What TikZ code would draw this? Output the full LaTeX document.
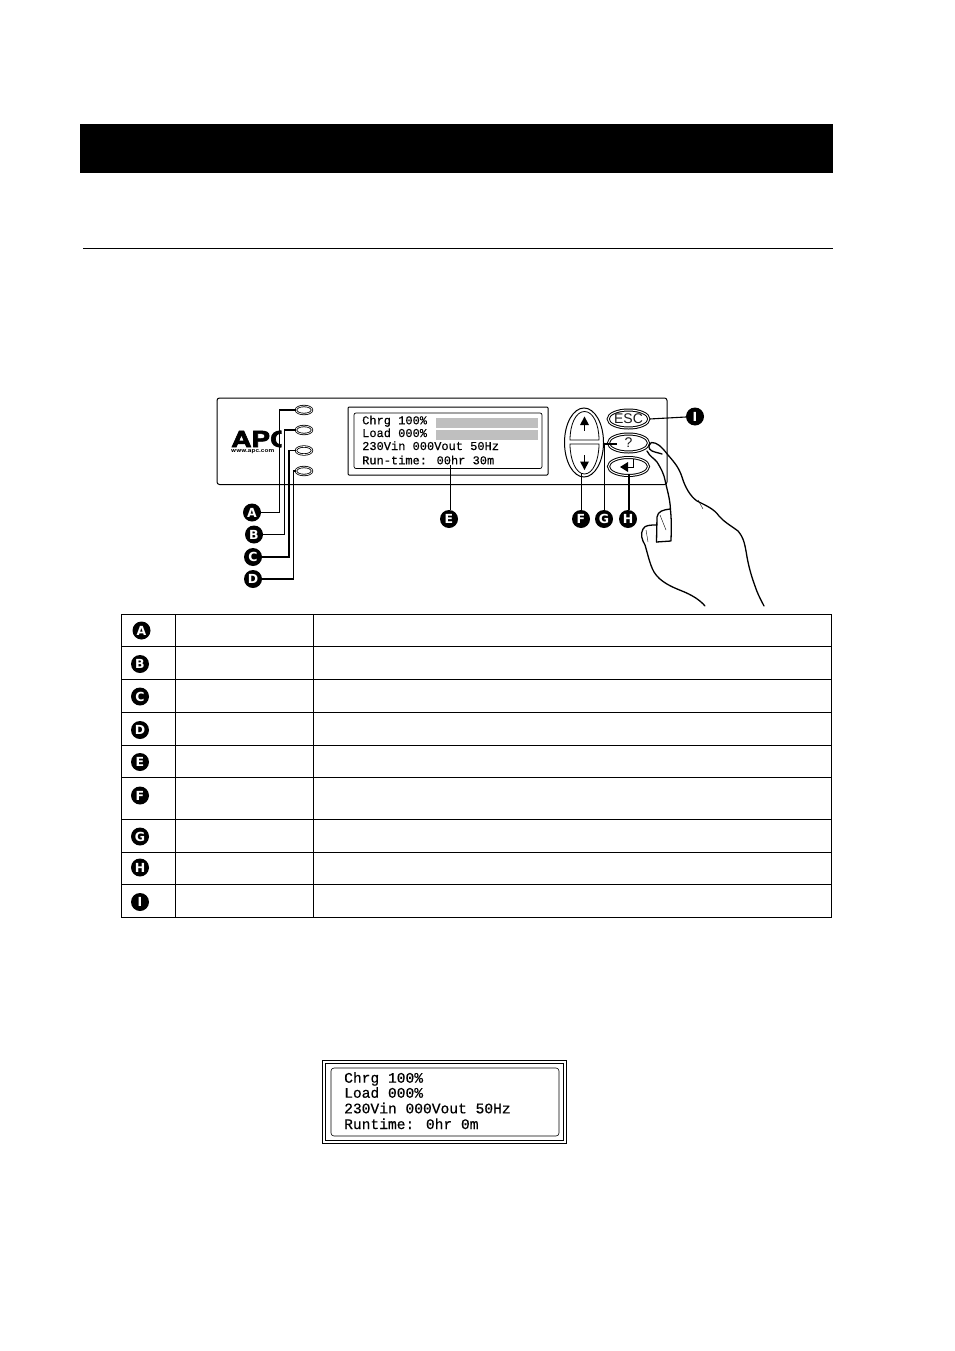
\documentclass[tikz,border=0pt]{standalone}
\usepackage{fontspec}
\setmainfont{Liberation Sans}
\newfontfamily\lcdfont[FakeBold=0.35]{Liberation Mono}
\newfontfamily\lcdbigfont[FakeBold=0.5]{Liberation Mono}
\newfontfamily\logofont[FakeBold=2.5]{TeX Gyre Heros}
\newfontfamily\webfont{TeX Gyre Heros}
\newfontfamily\badgefont{DejaVu Sans}
\usetikzlibrary{shapes.geometric,calc}
\tikzset{
  badge/.style={circle,fill=black,text=white,inner sep=0pt,minimum size=18pt,font=\badgefont\bfseries\fontsize{12.5pt}{12.5pt}\selectfont},
  led/.style={ellipse,draw,line width=.8pt,inner sep=0pt,minimum width=16pt,minimum height=8pt,double=white,double distance=.7pt},
  leader/.style={line width=1.7pt},
  thinleader/.style={line width=1.1pt},
  keybtn/.style={ellipse,draw,line width=1pt,inner sep=0pt,double=white,double distance=1pt,minimum width=40pt,minimum height=18pt},
  lcd/.style={anchor=base west,inner sep=0pt,font=\lcdfont\fontsize{12pt}{12pt}\selectfont},
  lcdbig/.style={anchor=base west,inner sep=0pt,font=\lcdbigfont\fontsize{14.6pt}{14.6pt}\selectfont},
  hand/.style={line width=1.3pt,line join=round,line cap=round},
  grid/.style={line width=1pt},
  bar/.style={fill=black!25,draw=none}
}
\begin{document}
\begin{tikzpicture}[x=1pt,y=-1pt]
\useasboundingbox (0,0) rectangle (954,1351);
\fill[white] (0,0) rectangle (954,1351);
% header
\fill[black] (80,124) rectangle (833,173);
\draw[line width=.8pt] (83,248.5) -- (833,248.5);
% panel
\draw[line width=1pt,rounded corners=2.5pt] (217,398) rectangle (667,484.5);
% logo
\begin{scope}
\clip (225,425) rectangle (281.5,456);
\node[inner sep=0pt,anchor=base west,font=\logofont\bfseries\fontsize{22pt}{22pt}\selectfont,xscale=1.27] (logo) at (231,447) {APC};
\node[inner sep=0pt,anchor=base west,font=\webfont\bfseries\fontsize{5.4pt}{5.4pt}\selectfont,xscale=1.2] (web) at (231,452.5) {www.apc.com};
\end{scope}
% LEDs
\node[led] (leda) at (304,410) {};
\node[led] (ledb) at (304,430) {};
\node[led] (ledc) at (304,450.5) {};
\node[led] (ledd) at (304,471) {};
% display
\draw[line width=1pt,rounded corners=1pt] (348,407) rectangle (548,475);
\draw[line width=.7pt,rounded corners=2pt] (354,413) rectangle (542,468.5);
\fill[bar] (436,418) rectangle (538,428);
\fill[bar] (436,430) rectangle (538,440);
\node[lcd] (l1) at (362,424.3) {Chrg 100\%};
\node[lcd] (l2) at (362,437) {Load 000\%};
\node[lcd] (l3) at (362,450) {230Vin 000Vout 50Hz};
\node[lcd] (l4) at (362,464.3) {Run-time: 00hr 30m};
% up/down rocker
\node[ellipse,draw,line width=1pt,inner sep=0pt,minimum width=39pt,minimum height=69pt] (rocker) at (584,442.5) {};
\draw[line width=.8pt] (570,440) .. controls (570,424) and (576,411.5) .. (584.5,411.5) .. controls (593,411.5) and (599,424) .. (599,440) -- cycle;
\draw[line width=.8pt] (570,444) .. controls (570,460) and (576,474) .. (584.5,474) .. controls (593,474) and (599,460) .. (599,444) -- cycle;
\fill (584.5,416.5) -- (589,425) -- (580,425) -- cycle;
\draw[line width=.9pt] (584.5,424) -- (584.5,431);
\fill (584.5,470) -- (589,461.5) -- (580,461.5) -- cycle;
\draw[line width=.9pt] (584.5,455) -- (584.5,463);
% keys
\node[keybtn,text=black!90,font=\fontsize{14pt}{14pt}\selectfont] (esc) at (628.5,419) {ESC};
\node[keybtn,text=black!90,font=\fontsize{14pt}{14pt}\selectfont] (help) at (628.5,443) {?};
\node[keybtn] (enter) at (628.5,466.5) {};
\fill (620,467) -- (628,462) -- (628,472) -- cycle;
\draw[line width=1.1pt] (627,467.5) -- (633.5,467.5) -- (633.5,459);
% hand
\draw[hand] (651.5,442.5) .. controls (657,442.5) and (661,446) .. (668,455) .. controls (675,463) and (679,468) .. (682,477)
  .. controls (685,487) and (690,496) .. (697,501) .. controls (707,506) and (714,509) .. (719,516)
  .. controls (724,522) and (730,525) .. (738,531) .. controls (744,538) and (745,545) .. (747,557) .. controls (749,568) and (752,578) .. (755,586) .. controls (758,595) and (761,600) .. (764,606);
\draw[hand] (651.5,442.5) .. controls (648,445) and (648,449) .. (652,451) .. controls (657,453) and (660,453) .. (662,454);
\draw[hand] (647,451) .. controls (650,457) and (654,458) .. (657,462) .. controls (662,470) and (664,475) .. (665,480) .. controls (667,490) and (670,498) .. (670.5,510)
  .. controls (672,525) and (671,535) .. (671,541) -- (656.5,542);
\draw[hand] (670,509) .. controls (663,510) and (658,511) .. (657,517) -- (656.5,542);
\draw[hand] (657,525) .. controls (650,525) and (645,525) .. (643,529) .. controls (640,534) and (642,540) .. (645,545)
  .. controls (648,555) and (650,565) .. (654,572) .. controls (660,582) and (672,587) .. (682,591) .. controls (692,595) and (700,600) .. (705,606);
\draw[line width=.4pt] (660,515) -- (666,530);
\draw[line width=.4pt] (646,530) -- (648,542);
\draw[line width=.4pt] (698,500) -- (703,509);
% badges on diagram
\node[badge] (a) at (252,512.5) {A};
\node[badge] (b) at (254,534.5) {B};
\node[badge] (c) at (253,557) {C};
\node[badge] (d) at (253,579) {D};
\node[badge] (e) at (449,519) {E};
\node[badge] (f) at (581,519) {F};
\node[badge] (g) at (604,519) {G};
\node[badge] (h) at (628,519) {H};
\node[badge] (i) at (695,416.5) {I};
% leaders
\draw[leader] (leda.west) -- ++(-16,0) |- (a);
\draw[thinleader] (ledb.west) -- ++(-11,0) |- (b);
\draw[leader] (ledc.west) -- ++(-6.5,0) |- (c);
\draw[leader] (ledd.west) -- ++(-2,0) |- (d);
\coordinate (etop) at (450.5,465);
\coordinate (gtop) at (604.5,444);
\coordinate (gend) at (617,444);
\coordinate (ftop) at (581.5,473);
\coordinate (htop) at (629,474);
\draw[leader] (etop) -- (etop |- e.north);
\draw[thinleader] (ftop) -- (ftop |- f.north);
\draw[leader] (gend) -- (gtop) -- (gtop |- g.north);
\draw[leader] (htop) -- (htop |- h.north);
\draw[thinleader] (esc.east) -- (i);
% table
\draw[grid] (121.5,614.5) rectangle (831.5,917.5);
\draw[grid] (175.5,614.5) -- (175.5,917.5);
\draw[grid] (313.5,614.5) -- (313.5,917.5);
\foreach \yy in {646.5,679.5,712.5,745,777.5,819.5,852.5,884.5}{
  \draw[grid] (121.5,\yy) -- (831.5,\yy);
}
\node[badge] (ta) at (141.5,630.5) {A};
\node[badge] (tb) at (140,664) {B};
\node[badge] (tc) at (140,696.5) {C};
\node[badge] (td) at (140,730) {D};
\node[badge] (te) at (140,762) {E};
\node[badge] (tf) at (140,795.5) {F};
\node[badge] (tg) at (140,836.5) {G};
\node[badge] (th) at (140,867.5) {H};
\node[badge] (ti) at (140,902) {I};
% second display
\draw[line width=1.5pt] (322.5,1060.5) rectangle (566.5,1143.5);
\draw[line width=.8pt] (325.5,1063.5) rectangle (563.5,1140.5);
\draw[line width=.6pt,rounded corners=3pt] (331,1068) rectangle (559,1136);
\node[lcdbig] (m1) at (344,1082.7) {Chrg 100\%};
\node[lcdbig] (m2) at (344,1097.7) {Load 000\%};
\node[lcdbig] (m3) at (344,1113.3) {230Vin 000Vout 50Hz};
\node[lcdbig] (m4) at (344,1129) {Runtime: 0hr 0m};
\end{tikzpicture}
\end{document}
